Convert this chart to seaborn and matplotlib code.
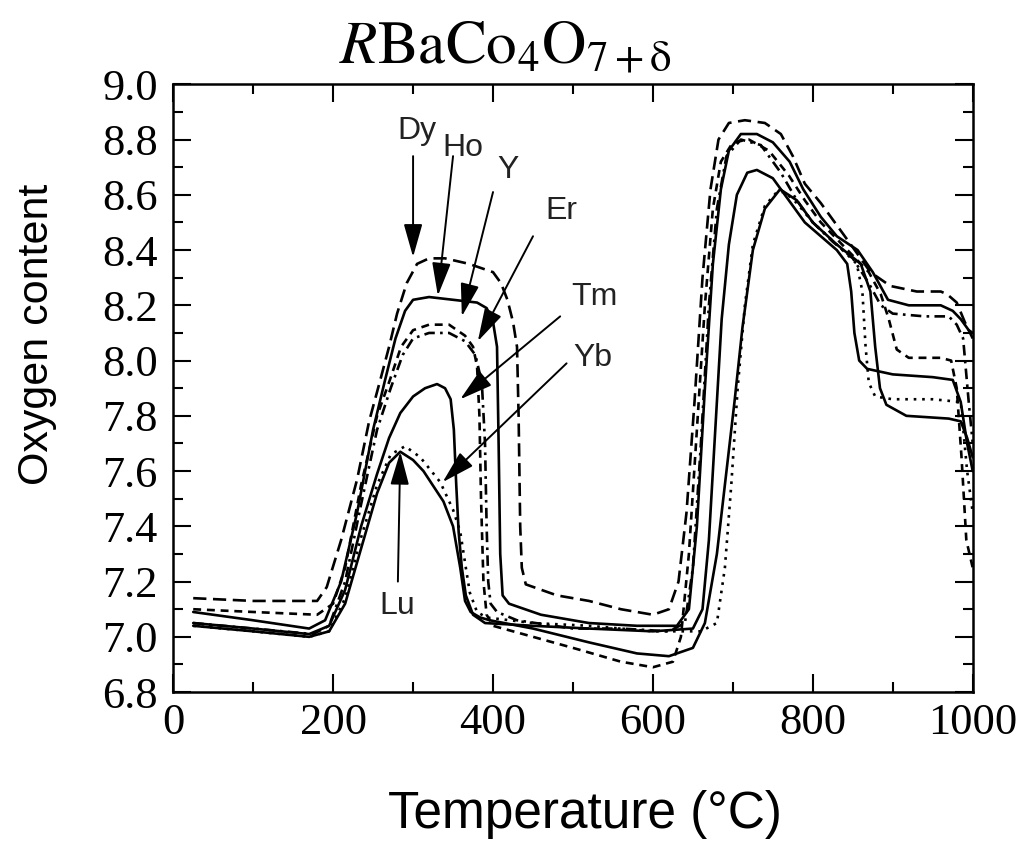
import matplotlib
matplotlib.use("Agg")
import matplotlib.pyplot as plt
from matplotlib.ticker import MultipleLocator, FormatStrFormatter
import seaborn as sns

# 数据
t_dy = [25, 100, 180, 192, 210, 230, 245, 259, 270, 280, 292, 305, 320, 340, 370, 400, 410, 418, 425, 430,
        432, 434, 436, 441, 480, 520, 560, 600, 620, 632, 642, 652, 662, 672, 682, 695, 715, 740, 760, 775,
        790, 810, 830, 850, 872, 897, 930, 960, 968, 980, 990, 1000]
o_dy = [7.14, 7.13, 7.13, 7.18, 7.35, 7.57, 7.78, 7.93, 8.05, 8.17, 8.28, 8.35, 8.37, 8.37, 8.35, 8.32, 8.28, 8.22, 8.14, 8.05,
        7.80, 7.40, 7.25, 7.19, 7.15, 7.13, 7.10, 7.08, 7.10, 7.20, 7.45, 7.85, 8.30, 8.62, 8.80, 8.86, 8.87, 8.86, 8.82, 8.74,
        8.64, 8.57, 8.49, 8.41, 8.32, 8.27, 8.25, 8.25, 8.24, 8.21, 8.14, 8.08]

t_ho = [25, 100, 170, 190, 210, 230, 250, 265, 278, 290, 300, 320, 350, 380, 392, 400, 405, 407, 409, 412,
        420, 460, 520, 580, 630, 645, 655, 665, 675, 685, 695, 710, 730, 750, 771, 788, 810, 830, 856, 875,
        894, 920, 960, 975, 985, 995, 1000]
o_ho = [7.09, 7.06, 7.03, 7.06, 7.20, 7.45, 7.75, 7.93, 8.08, 8.18, 8.22, 8.23, 8.22, 8.21, 8.19, 8.14, 8.05, 7.70, 7.30, 7.15,
        7.12, 7.08, 7.05, 7.04, 7.04, 7.10, 7.40, 7.90, 8.35, 8.62, 8.76, 8.82, 8.82, 8.79, 8.72, 8.62, 8.52, 8.45, 8.40, 8.32,
        8.22, 8.20, 8.20, 8.18, 8.15, 8.11, 8.10]

t_y = [25, 100, 180, 200, 215, 235, 255, 271, 285, 300, 320, 345, 365, 375, 380, 383, 385, 388, 392, 400,
       450, 500, 560, 600, 625, 635, 645, 655, 665, 675, 685, 700, 720, 745, 770, 790, 810, 830, 850, 870,
       885, 895, 905, 920, 960, 973, 980, 986, 992, 1000]
o_y = [7.10, 7.09, 7.08, 7.12, 7.25, 7.55, 7.80, 7.93, 8.05, 8.11, 8.13, 8.13, 8.09, 8.05, 7.98, 7.80, 7.50, 7.20, 7.08, 7.04,
       7.00, 6.96, 6.91, 6.89, 6.91, 7.00, 7.30, 7.75, 8.20, 8.55, 8.72, 8.79, 8.80, 8.76, 8.67, 8.58, 8.50, 8.44, 8.38, 8.32,
       8.24, 8.15, 8.04, 8.01, 8.01, 8.00, 7.90, 7.65, 7.35, 7.25]

t_er = [25, 100, 175, 195, 215, 235, 255, 272, 287, 300, 320, 345, 365, 378, 386, 390, 392, 394, 397, 405,
        430, 500, 560, 620, 640, 650, 660, 670, 680, 692, 710, 735, 760, 780, 800, 825, 850, 870, 885, 900,
        940, 970, 980, 988, 995, 1000]
o_er = [7.05, 7.03, 7.01, 7.04, 7.20, 7.48, 7.75, 7.90, 8.02, 8.08, 8.10, 8.10, 8.07, 8.02, 7.92, 7.70, 7.40, 7.20, 7.12, 7.09,
        7.06, 7.03, 7.03, 7.02, 7.05, 7.25, 7.70, 8.20, 8.55, 8.74, 8.80, 8.78, 8.68, 8.58, 8.50, 8.43, 8.37, 8.28, 8.20, 8.17,
        8.16, 8.16, 8.13, 8.08, 7.85, 7.70]

t_tm = [25, 100, 170, 195, 215, 235, 255, 270, 284, 300, 315, 330, 340, 347, 351, 354, 357, 361, 366, 375,
        390, 450, 520, 600, 650, 662, 670, 678, 686, 695, 705, 718, 730, 750, 770, 790, 810, 830, 843, 848,
        852, 858, 868, 900, 950, 975, 985, 993, 1000]
o_tm = [7.05, 7.03, 7.01, 7.04, 7.17, 7.40, 7.59, 7.72, 7.81, 7.87, 7.90, 7.915, 7.90, 7.86, 7.75, 7.55, 7.38, 7.25, 7.15, 7.08,
        7.05, 7.04, 7.03, 7.02, 7.03, 7.10, 7.35, 7.75, 8.15, 8.42, 8.60, 8.68, 8.69, 8.66, 8.58, 8.50, 8.45, 8.40, 8.35, 8.25,
        8.10, 8.00, 7.97, 7.95, 7.94, 7.93, 7.85, 7.70, 7.60]

t_yb = [25, 100, 170, 195, 215, 235, 255, 272, 290, 309, 334, 350, 359, 366, 371, 380, 392, 450, 520, 600,
        660, 680, 690, 698, 706, 715, 725, 740, 755, 765, 780, 800, 830, 855, 862, 866, 870, 878, 900, 950,
        985, 993, 1000]
o_yb = [7.04, 7.02, 7.00, 7.02, 7.14, 7.36, 7.55, 7.66, 7.69, 7.65, 7.56, 7.46, 7.38, 7.25, 7.16, 7.09, 7.07, 7.05, 7.04, 7.02,
        7.02, 7.05, 7.25, 7.55, 7.90, 8.20, 8.42, 8.56, 8.61, 8.61, 8.57, 8.50, 8.42, 8.35, 8.25, 8.05, 7.92, 7.87, 7.86, 7.86,
        7.85, 7.60, 7.45]

t_lu = [25, 100, 170, 195, 215, 235, 255, 270, 284, 300, 313, 338, 350, 359, 365, 372, 384, 396, 450, 520,
        580, 620, 650, 665, 680, 692, 702, 712, 725, 740, 759, 780, 800, 830, 860, 872, 878, 884, 892, 917,
        970, 985, 993, 1000]
o_lu = [7.04, 7.02, 7.00, 7.02, 7.12, 7.32, 7.52, 7.63, 7.67, 7.64, 7.60, 7.49, 7.40, 7.25, 7.13, 7.09, 7.07, 7.06, 7.03, 6.98,
        6.94, 6.93, 6.96, 7.05, 7.30, 7.60, 7.85, 8.12, 8.40, 8.55, 8.62, 8.58, 8.50, 8.42, 8.35, 8.25, 8.05, 7.90, 7.84, 7.80,
        7.79, 7.78, 7.72, 7.65]

# 标签文字和箭头（文字位置, 箭头起点, 箭头终点）
labels = ["Dy", "Ho", "Y", "Er", "Tm", "Yb", "Lu"]
label_xy = [(305, 8.83), (362, 8.77), (419, 8.69), (485, 8.54), (527, 8.23), (525, 8.01), (280, 7.11)]
arrow_from = [(300, 8.74), (350, 8.74), (400, 8.61), (450, 8.45), (484, 8.16), (492, 7.99), (281, 7.20)]
arrow_to = [(300, 8.375), (331, 8.235), (361, 8.16), (381, 8.07), (359, 7.86), (337, 7.56), (284, 7.67)]

sns.set_style("ticks")
plt.rcParams['font.family'] = ['Liberation Sans', 'DejaVu Sans']
plt.rcParams['mathtext.fontset'] = 'stix'
for key in ['text.color', 'axes.labelcolor', 'xtick.color', 'ytick.color', 'axes.edgecolor']:
    plt.rcParams[key] = 'black'

fig = plt.figure(figsize=(10.25, 8.43), dpi=100)
ax = fig.add_axes([0.169, 0.179, 0.780, 0.721])

curves = [
    (t_dy, o_dy, (0, (5, 2.5))),
    (t_ho, o_ho, '-'),
    (t_y, o_y, (0, (3, 2.2))),
    (t_er, o_er, (0, (4, 2, 1, 2))),
    (t_tm, o_tm, '-'),
    (t_yb, o_yb, (0, (1, 2.2))),
    (t_lu, o_lu, '-'),
]
for t, o, ls in curves:
    sns.lineplot(x=t, y=o, ax=ax, color='black', linewidth=1.9, linestyle=ls,
                 sort=False, estimator=None)

for name, txy, a0, a1 in zip(labels, label_xy, arrow_from, arrow_to):
    ax.annotate('', xy=a1, xytext=a0,
                arrowprops=dict(arrowstyle='-|>,head_length=0.85,head_width=0.24',
                                color='black', lw=1.4, shrinkA=0, shrinkB=0, mutation_scale=24))
    ax.text(txy[0], txy[1], name, fontsize=23, ha='center', va='center', color='#222222')

ax.set_xlim(0, 1000)
ax.set_ylim(6.8, 9.0)
ax.xaxis.set_major_locator(MultipleLocator(200))
ax.xaxis.set_minor_locator(MultipleLocator(100))
ax.yaxis.set_major_locator(MultipleLocator(0.2))
ax.yaxis.set_minor_locator(MultipleLocator(0.1))
ax.yaxis.set_major_formatter(FormatStrFormatter('%.1f'))
ax.tick_params(which='both', direction='in', top=True, right=True, width=1.5, colors='black')
ax.tick_params(which='major', length=13)
ax.tick_params(which='minor', length=7)
ax.tick_params(axis='y', pad=11)
ax.tick_params(axis='x', pad=8)
for lab in ax.get_xticklabels() + ax.get_yticklabels():
    lab.set_family('Liberation Serif')
    lab.set_fontsize(32)
for sp in ax.spines.values():
    sp.set_linewidth(1.8)
    sp.set_color('black')
ax.set_xlabel('')
ax.set_ylabel('')

fig.text(0.493, 0.925, r'$\mathit{R}\mathrm{BaCo}_4\mathrm{O}_{7+\mathrm{\delta}}$',
         fontsize=44, ha='center', va='baseline')
fig.text(0.036, 0.603, 'Oxygen content', fontsize=31, rotation=90, ha='center', va='center')
fig.text(0.571, 0.018, 'Temperature (°C)', fontsize=37, ha='center', va='baseline')

fig.savefig('out.png', dpi=100)
